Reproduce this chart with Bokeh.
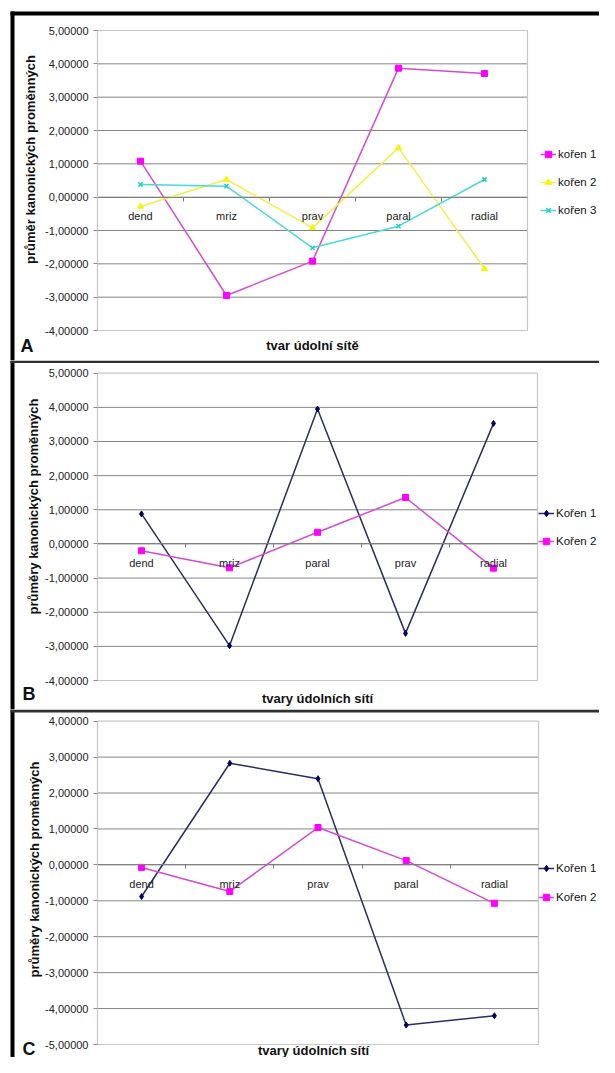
import math
from bokeh.plotting import figure
from bokeh.layouts import column
from bokeh.models import (Range1d, FixedTicker, Label, Legend, LegendItem,
                          BoxAnnotation, LinearAxis)
from bokeh.embed import file_html
from bokeh.resources import INLINE

# ---------------- data ----------------
cats_A = ["dend", "mriz", "prav", "paral", "radial"]
A_koren1 = [1.08, -2.95, -1.92, 3.87, 3.71]
A_koren2 = [-0.28, 0.53, -0.92, 1.48, -2.15]
A_koren3 = [0.38, 0.33, -1.52, -0.87, 0.53]
names_A = ["kořen 1", "kořen 2", "kořen 3"]

cats_B = ["dend", "mriz", "paral", "prav", "radial"]
B_koren1 = [0.88, -2.98, 3.95, -2.62, 3.53]
B_koren2 = [-0.20, -0.70, 0.34, 1.36, -0.71]
names_B = ["Kořen 1", "Kořen 2"]

cats_C = ["dend", "mriz", "prav", "paral", "radial"]
C_koren1 = [-0.88, 2.83, 2.40, -4.46, -4.20]
C_koren2 = [-0.07, -0.74, 1.04, 0.12, -1.07]
names_C = ["Kořen 1", "Kořen 2"]

yticks_A = [-4, -3, -2, -1, 0, 1, 2, 3, 4, 5]
yticks_B = [-4, -3, -2, -1, 0, 1, 2, 3, 4, 5]
yticks_C = [-5, -4, -3, -2, -1, 0, 1, 2, 3, 4]

xtitle_A = "tvar údolní sítě"
xtitle_B = "tvary údolních sítí"
xtitle_C = "tvary údolních sítí"
ytitle_A = "průměr kanonických proměnných"
ytitle_B = "průměry kanonických proměnných"
ytitle_C = "průměry kanonických proměnných"

FONT = "Liberation Sans"
W = 599

# styles per series: (line colour, marker, marker colour, marker size)
STY_A = [("#d24bd2", "square", "#ff00ff", 6),
         ("#f0f04a", "triangle", "#f5f500", 6),
         ("#4ad8d8", "x", "#20d0d0", 6)]
STY_BC = [("#2b2b66", "diamond", "#000060", 6),
          ("#d24bd2", "square", "#ff00ff", 6)]


def fmt(v):
    return f"{v:.5f}".replace(".", ",")


def panel(cats, series, names, styles, yticks, xtitle, ytitle, letter, h,
          area, top_bar, leg_pos, leg_spacing, xt_pos, let_pos, yt_pos):
    n = len(cats)
    ax0, ax1, ay0, ay1 = area          # plot area in canvas pixels
    ymin, ymax = yticks[0], yticks[-1]
    sx = (ax1 - ax0) / n
    sy = (ay1 - ay0) / (ymax - ymin)

    def X(px):
        return (px - ax0) / sx

    def Y(py):
        return ymax - (py - ay0) / sy

    p = figure(width=W, height=h, output_backend="svg", toolbar_location=None,
               x_range=Range1d(X(0), X(W)), y_range=Range1d(Y(h), Y(0)),
               x_axis_location=None, y_axis_location=None, min_border=0)
    p.background_fill_color = "white"
    p.border_fill_color = "white"
    p.outline_line_color = None
    p.xgrid.visible = False
    p.ygrid.visible = False

    # horizontal grid lines inside plot area
    inner = yticks[1:-1]
    p.segment(x0=[0] * len(inner), x1=[n] * len(inner), y0=inner, y1=inner,
              line_color="#858585", line_width=1)
    # plot area border
    p.quad(left=[0], right=[n], bottom=[ymin], top=[ymax], fill_alpha=0,
           line_color="#c6c6c6", line_width=1.2)

    # y axis
    ya = LinearAxis(fixed_location=0, bounds=(ymin, ymax))
    ya.ticker = FixedTicker(ticks=yticks)
    ya.major_label_overrides = {v: fmt(v) for v in yticks}
    ya.major_label_text_font = FONT
    ya.major_label_text_font_size = "11px"
    ya.major_label_text_color = "#222222"
    ya.major_tick_out = 4
    ya.major_tick_in = 0
    ya.major_tick_line_color = "#8a8a8a"
    ya.minor_tick_line_color = None
    ya.axis_line_color = "#c6c6c6"
    ya.major_label_standoff = 5
    p.add_layout(ya, "left")

    # x axis at y = 0
    xpos = [i + 0.5 for i in range(n)]
    xa = LinearAxis(fixed_location=0, bounds=(0, n))
    xa.ticker = FixedTicker(ticks=xpos, minor_ticks=list(range(1, n)))
    xa.major_label_overrides = {x: c for x, c in zip(xpos, cats)}
    xa.major_label_text_font = FONT
    xa.major_label_text_font_size = "11px"
    xa.major_label_text_color = "#222222"
    xa.major_tick_line_color = None
    xa.minor_tick_out = 4
    xa.minor_tick_in = 0
    xa.minor_tick_line_color = "#7a7a7a"
    xa.axis_line_color = "#808080"
    xa.major_label_standoff = 7
    p.add_layout(xa, "below")

    items = []
    for vals, name, (lc, mk, mc, ms) in zip(series, names, styles):
        lr = p.line(xpos, vals, line_color=lc, line_width=1.5)
        sr = p.scatter(xpos, vals, marker=mk, size=ms, fill_color=mc,
                       line_color=mc, line_width=1.5 if mk == "x" else 1)
        items.append(LegendItem(label=name, renderers=[lr, sr]))

    lx, lb = leg_pos
    leg = Legend(items=items, location=(lx, h - lb), padding=0, margin=0,
                 spacing=leg_spacing, glyph_width=16, glyph_height=20,
                 label_standoff=2, label_text_font=FONT,
                 label_text_font_size="11.5px", label_text_color="#111111",
                 border_line_color=None, background_fill_alpha=0)
    p.add_layout(leg)

    # axis titles and panel letter
    p.add_layout(Label(x=X(xt_pos[0]), y=Y(xt_pos[1]), text=xtitle,
                       text_font=FONT, text_font_size="13px",
                       text_font_style="bold", text_align="center",
                       text_baseline="middle", text_color="#111111"))
    p.add_layout(Label(x=X(yt_pos[0]), y=Y(yt_pos[1]), text=ytitle,
                       text_font=FONT, text_font_size="13px",
                       text_font_style="bold", text_align="center",
                       text_baseline="middle", angle=math.pi / 2,
                       text_color="#111111"))
    p.add_layout(Label(x=X(let_pos[0]), y=Y(let_pos[1]), text=letter,
                       text_font=FONT, text_font_size="18px",
                       text_font_style="bold", text_align="left",
                       text_baseline="middle", text_color="#111111"))

    # page frame: left bar + top bar
    t0, t1, tc = top_bar
    p.add_layout(BoxAnnotation(left=X(10), right=X(14), top=Y(t0), bottom=Y(h),
                               fill_color="black", fill_alpha=1, line_alpha=0,
                               level="overlay"))
    p.add_layout(BoxAnnotation(left=X(10), right=X(W), top=Y(t0), bottom=Y(t1),
                               fill_color=tc, fill_alpha=1, line_alpha=0,
                               level="overlay"))
    return p


pA = panel(cats_A, [A_koren1, A_koren2, A_koren3], names_A, STY_A, yticks_A,
           xtitle_A, ytitle_A, "A", 360, (97, 527, 30, 330),
           (11, 15, "black"), (540, 220), 8, (312, 345), (20, 345), (30, 159))
pB = panel(cats_B, [B_koren1, B_koren2], names_B, STY_BC, yticks_B,
           xtitle_B, ytitle_B, "B", 349, (97, 537, 12.7, 320),
           (0, 2.5, "#303030"), (538, 190.7), 8, (317, 338), (22, 333), (33, 146))
pC = panel(cats_C, [C_koren1, C_koren2], names_C, STY_BC, yticks_C,
           xtitle_C, ytitle_C, "C", 348, (97, 538, 11.7, 335),
           (0, 3, "#303030"), (538, 197.7), 9, (313, 341), (22, 339), (34, 160))

layout = column(pA, pB, pC, spacing=0)
open("out.html", "w").write(file_html(layout, INLINE))
